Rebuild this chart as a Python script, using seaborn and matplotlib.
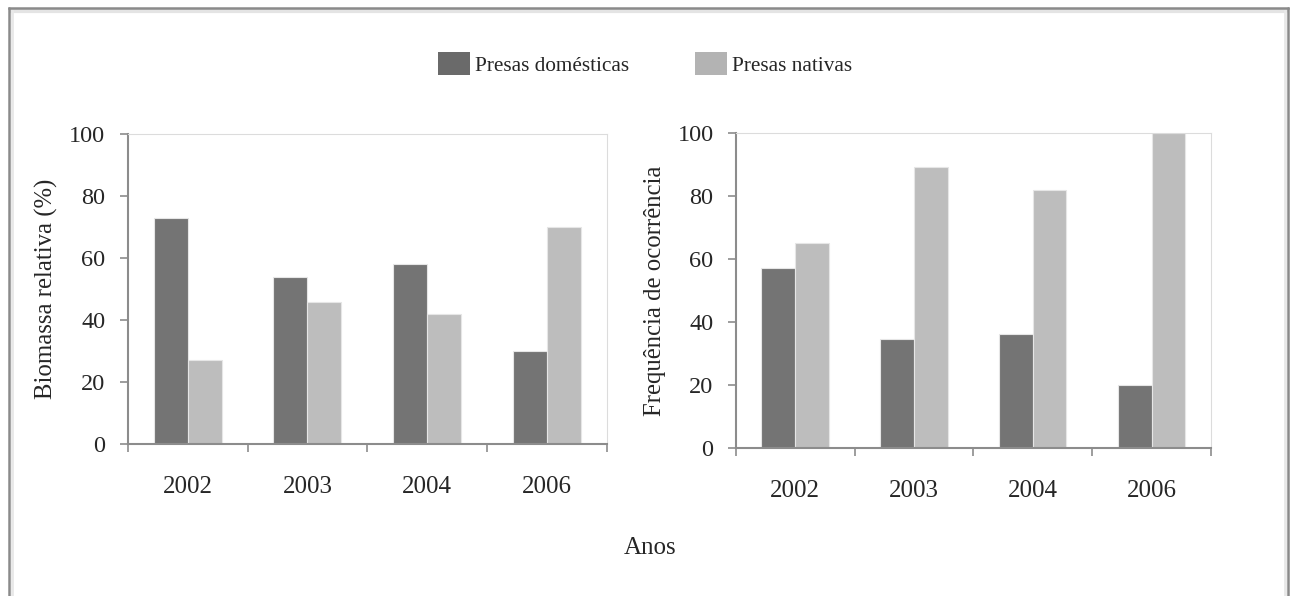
import matplotlib
matplotlib.use("Agg")
import matplotlib.pyplot as plt
import seaborn as sns
import pandas as pd
from matplotlib.lines import Line2D
from matplotlib.patches import Patch

years = ["2002", "2003", "2004", "2006"]
series = ["Presas domésticas", "Presas nativas"]
biomassa_domesticas = [73, 54, 58, 30]
biomassa_nativas = [27, 46, 42, 70]
freq_domesticas = [57, 34.5, 36.3, 20]
freq_nativas = [65.2, 89, 81.7, 100]
yticks = [0, 20, 40, 60, 80, 100]

colors = ["#747474", "#bdbdbd"]

sns.set_theme(style="white")
plt.rcParams["font.family"] = ["Liberation Serif", "DejaVu Serif"]

def make_df(d, n):
    return pd.DataFrame({
        "Ano": years * 2,
        "Tipo": [series[0]] * len(years) + [series[1]] * len(years),
        "Valor": list(d) + list(n),
    })

fig = plt.figure(figsize=(12.96, 5.96), dpi=100)
ax1 = fig.add_axes([0.0985, 0.255, 0.3700, 0.5195])
ax2 = fig.add_axes([0.5677, 0.2478, 0.3667, 0.5295])

for ax, d, n, ylabel in [
    (ax1, biomassa_domesticas, biomassa_nativas, "Biomassa relativa (%)"),
    (ax2, freq_domesticas, freq_nativas, "Frequência de ocorrência"),
]:
    df = make_df(d, n)
    sns.barplot(data=df, x="Ano", y="Valor", hue="Tipo", order=years,
                hue_order=series, palette=colors, width=0.567, gap=0,
                edgecolor="#e6e6e6", linewidth=0.8, ax=ax, legend=False,
                saturation=1)
    ax.set_ylim(0, 100)
    ax.set_xlim(-0.5, 3.5)
    ax.set_yticks(yticks)
    ax.set_yticklabels([str(v) for v in yticks], fontsize=17.5)
    ax.set_xticks(range(len(years)))
    ax.set_xticklabels(years, fontsize=18)
    ax.set_xticks([-0.5, 0.5, 1.5, 2.5, 3.5], minor=True)
    ax.tick_params(axis="x", which="major", length=0, pad=23)
    ax.tick_params(axis="x", which="minor", length=6, width=1.2, color="#8c8c8c", direction="out", bottom=True)
    ax.tick_params(axis="y", which="major", length=6, width=1.2, color="#8c8c8c", direction="out", left=True, pad=10)
    ax.set_xlabel("")
    ax.set_ylabel(ylabel, fontsize=17.8)
    ax.yaxis.set_label_coords(-0.146, 0.5)
    for s in ["left", "bottom"]:
        ax.spines[s].set_color("#8c8c8c")
        ax.spines[s].set_linewidth(1.5)
    for s in ["top", "right"]:
        ax.spines[s].set_color("#dcdcdc")
        ax.spines[s].set_linewidth(0.8)
    ax.set_facecolor("white")

fig.text(0.5015, 0.080, "Anos", ha="center", va="center", fontsize=18)

handles = [Patch(facecolor="#6a6a6a", edgecolor="none"),
           Patch(facecolor="#b3b3b3", edgecolor="none")]
fig.legend(handles, series, loc="center", bbox_to_anchor=(0.4977, 0.893),
           ncol=2, frameon=False, fontsize=15.3, handlelength=1.5,
           handleheight=1.3, handletextpad=0.25, columnspacing=3.1,
           borderpad=0, borderaxespad=0)

# outer frame with soft inner shadow
frame_color = "#8a8a8a"
xl, xr, yt = 9.0 / 1296, 1287.5 / 1296, 1 - 8.2 / 596
fig.add_artist(Line2D([xl + 2 / 1296, xr - 2 / 1296], [yt - 3 / 596, yt - 3 / 596], transform=fig.transFigure, color="#e4e4e4", lw=3))
fig.add_artist(Line2D([xl + 2.5 / 1296, xl + 2.5 / 1296], [0, yt - 2 / 596], transform=fig.transFigure, color="#e8e8e8", lw=2))
fig.add_artist(Line2D([xr - 2.5 / 1296, xr - 2.5 / 1296], [0, yt - 2 / 596], transform=fig.transFigure, color="#e8e8e8", lw=2))
fig.add_artist(Line2D([xl, xr], [yt, yt], transform=fig.transFigure, color=frame_color, lw=1.8, solid_capstyle="projecting"))
fig.add_artist(Line2D([xl, xl], [0, yt], transform=fig.transFigure, color=frame_color, lw=1.8))
fig.add_artist(Line2D([xr, xr], [0, yt], transform=fig.transFigure, color=frame_color, lw=1.8))

fig.savefig("out.png", dpi=100)
